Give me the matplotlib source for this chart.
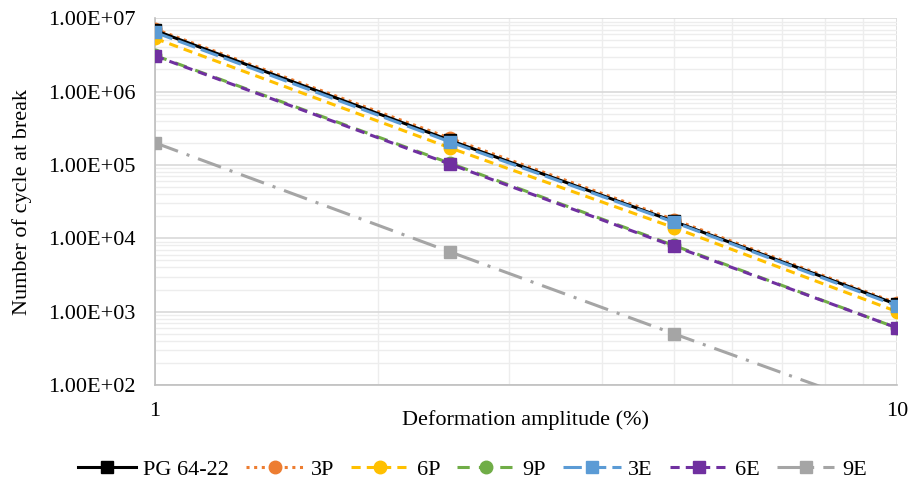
import matplotlib
matplotlib.use("Agg")
import matplotlib.pyplot as plt
from matplotlib.ticker import FixedLocator, FuncFormatter, NullFormatter, LogLocator

plt.rcParams['font.family'] = ['Liberation Serif', 'DejaVu Serif']

amplitude = [1, 2.5, 5, 10]
pg6422 = [6.8e6, 2.15e5, 1.7e4, 1.25e3]
p3 = [7.1e6, 2.3e5, 1.8e4, 1.3e3]
p6 = [5.3e6, 1.7e5, 1.4e4, 1.0e3]
p9 = [3.1e6, 1.05e5, 8.0e3, 6.0e2]
e3 = [6.4e6, 2.05e5, 1.66e4, 1.2e3]
e6 = [3.05e6, 1.02e5, 7.8e3, 6.0e2]
e9 = [2.0e5, 6.5e3, 5.0e2, 4.0e1]

fig = plt.figure(figsize=(9.19, 4.91), dpi=100)
ax = fig.add_axes([0.1687, 0.216, 0.8073, 0.747])

lw = 2.2
ms = 9
ax.plot(amplitude, pg6422, color='black', lw=lw, ls='-', marker='s', ms=ms, label='PG 64-22', zorder=5)
ax.plot(amplitude, p3, color='#ED7D31', lw=lw, ls=(0, (1, 1.5)), marker='o', ms=ms, label='3P', zorder=4)
ax.plot(amplitude, p6, color='#FFC000', lw=lw, ls=(0, (3, 2)), marker='o', ms=ms, label='6P', zorder=4)
ax.plot(amplitude, p9, color='#70AD47', lw=lw, ls=(0, (4, 3)), marker='o', ms=ms, label='9P', zorder=4)
ax.plot(amplitude, e3, color='#5B9BD5', lw=lw, ls=(0, (6, 2)), marker='s', ms=ms, label='3E', zorder=6)
ax.plot(amplitude, e6, color='#7030A0', lw=lw, ls=(0, (3, 2)), marker='s', ms=ms, label='6E', zorder=6)
ax.plot(amplitude, e9, color='#A5A5A5', lw=lw, ls=(0, (8, 3, 1, 3)), marker='s', ms=ms, label='9E', zorder=4)

ax.set_xscale('log')
ax.set_yscale('log')
ax.set_xlim(1, 10)
ax.set_ylim(1e2, 1e7)

ax.xaxis.set_major_locator(FixedLocator([1, 10]))
ax.xaxis.set_major_formatter(FuncFormatter(lambda v, p: f"{v:g}"))
ax.xaxis.set_minor_locator(LogLocator(base=10, subs=range(2, 10)))
ax.xaxis.set_minor_formatter(NullFormatter())
ax.yaxis.set_major_locator(FixedLocator([1e2, 1e3, 1e4, 1e5, 1e6, 1e7]))
ax.yaxis.set_minor_locator(LogLocator(base=10, subs=range(2, 10)))
ax.yaxis.set_minor_formatter(NullFormatter())
ax.yaxis.set_major_formatter(FuncFormatter(lambda v, p: f"{v:.2E}"))

ax.grid(which='major', color='#D9D9D9', lw=1.2)
ax.grid(which='minor', color='#EDEDED', lw=1.0)
ax.set_axisbelow(True)
for s in ['top', 'right']:
    ax.spines[s].set_visible(False)
for s in ['left', 'bottom']:
    ax.spines[s].set_color('#BFBFBF')
    ax.spines[s].set_linewidth(1.2)
ax.tick_params(which='both', length=0, labelsize=16, colors='black')
ax.tick_params(axis='y', pad=14)
ax.tick_params(axis='x', pad=12)

ax.set_xlabel('Deformation amplitude (%)', fontsize=16, va='center')
ax.xaxis.set_label_coords(0.5, -0.095)
ax.set_ylabel('Number of cycle at break', fontsize=16, va='center')
ax.yaxis.set_label_coords(-0.179, 0.5)

leg = fig.legend(loc='center', bbox_to_anchor=(0.514, 0.043), ncol=7, frameon=False,
                 fontsize=16, handlelength=2.6, columnspacing=0.75, handletextpad=0.35,
                 borderaxespad=0, borderpad=0)

fig.savefig('out.png', dpi=100)
